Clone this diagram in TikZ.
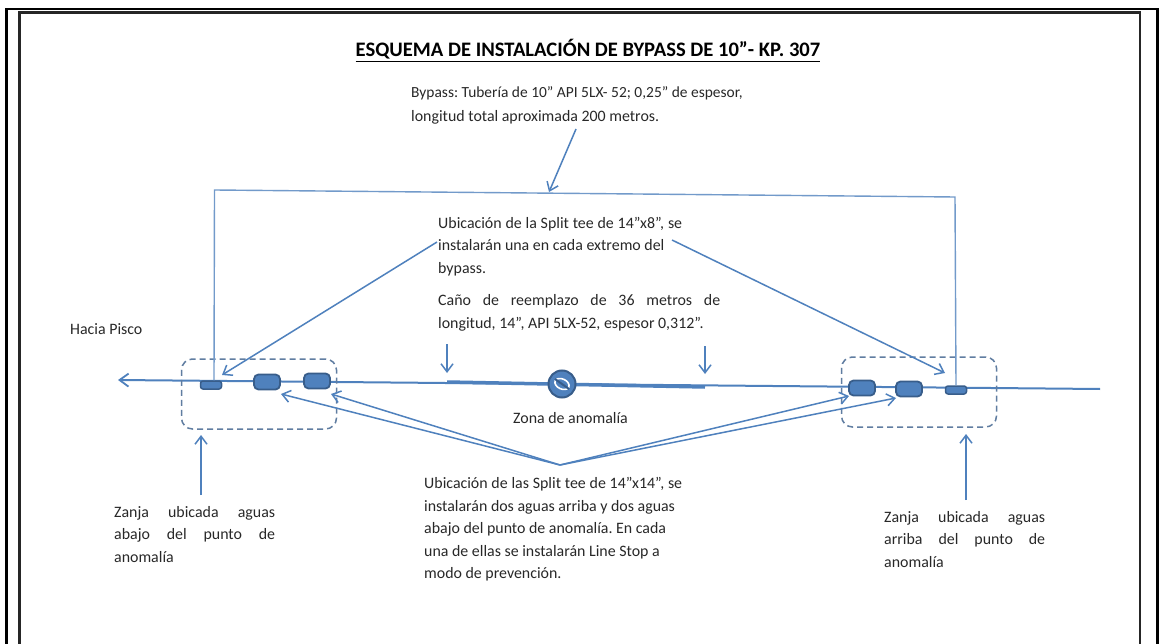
\documentclass[tikz,border=0pt]{standalone}
\usepackage{fontspec}
\setmainfont{Carlito}
\usetikzlibrary{arrows.meta}
\definecolor{lineblue}{RGB}{79,129,189}
\definecolor{darkblue}{RGB}{56,93,138}
\definecolor{txt}{RGB}{40,40,40}
\newcommand{\jl}[2]{\makebox[#1pt][s]{#2}}
\frenchspacing
\tikzset{
 x=1pt,y=-1pt,
 conn/.style={draw=lineblue,line width=1.5pt,-{Straight Barb[length=8pt,width=12pt,line width=1.5pt]}},
 pipe/.style={draw=lineblue,line width=2pt},
 teebig/.style={draw=darkblue,fill=lineblue,line width=1.8pt,rounded corners=4.5pt,minimum width=26pt,minimum height=15pt,inner sep=0pt},
 teesmall/.style={draw=darkblue,fill=lineblue,line width=1.5pt,rounded corners=2.5pt,minimum width=21pt,minimum height=8pt,inner sep=0pt},
 zone/.style={draw=darkblue!80,line width=1.5pt,dash pattern=on 6pt off 4pt,rounded corners=11pt},
 lab/.style={anchor=north west,inner sep=0pt,font=\fontsize{15.9}{24}\selectfont,text=txt,align=left},
 labt/.style={lab,font=\fontsize{15.9}{22.4}\selectfont},
}
\begin{document}
\begin{tikzpicture}
\useasboundingbox (0,0) rectangle (1159,644);
\fill[white] (0,0) rectangle (1159,644);
% frames
\draw[black,line width=2.8pt] (6.5,660) -- (6.5,9) -- (1157.5,9) -- (1157.5,660);
\draw[black!85,line width=2.4pt] (19.5,660) -- (19.5,12.5) -- (1140,12.5) -- (1140,660);
% title
\node[inner sep=0pt,anchor=base,font=\bfseries\fontsize{20.6}{24}\selectfont,text=black] (title) at (588,57) {\underline{ESQUEMA DE INSTALACIÓN DE BYPASS DE 10”- KP. 307}};
% main pipe
\coordinate (pL) at (118,380);
\coordinate (pR) at (1100,389);
\draw[pipe,-{Straight Barb[length=9pt,width=13pt,line width=1.8pt]}] (pR) -- (pL);
% replacement pipe
\coordinate (rL) at (447,382);
\coordinate (rR) at (705,387);
\draw[draw=lineblue,line width=3.5pt] (rL) -- (rR);
% zones
\node[zone,minimum width=155pt,minimum height=70pt,inner sep=0pt] (zoneL) at (259,394) {};
\node[zone,minimum width=155pt,minimum height=70pt,inner sep=0pt] (zoneR) at (919,392) {};
% tees
\node[teesmall] (t1) at (211,385) {};
\node[teebig] (t2) at (267,382) {};
\node[teebig] (t3) at (317,381) {};
\node[teebig] (t4) at (862,388) {};
\node[teebig] (t5) at (909,389) {};
\node[teesmall] (t6) at (956,390) {};
% bypass
\draw[draw=lineblue!80,line width=1.4pt] (t1.north) ++(3,0) -- (214.5,190) -- (955,197) -- (t6.north);
\coordinate (bypassTarget) at (549,192);
% anomaly
\node[circle,draw=darkblue,fill=lineblue,line width=2pt,minimum size=27pt,inner sep=0pt] (anom) at (562,384) {};
\draw[white,line width=1.6pt,rotate around={-25:(562,384)}] (562,384) ellipse (7.5pt and 5pt);
\draw[darkblue,line width=2pt] (anom.center) ++(-7,-5) -- ++(14,10);
% labels
\node[lab] (bypassLbl) at (411,86) {{\fontsize{15.45}{24}\selectfont Bypass: Tubería de 10” API 5LX- 52; 0,25” de espesor,}\\longitud total aproximada 200 metros.};
\node[labt] (teeLbl) at (438,217) {\jl{244}{Ubicación de la Split tee de 14”x8”, se}\\instalarán una en cada extremo del\\bypass.};
\node[labt] (canoLbl) at (438,294.5) {\jl{282}{Caño de reemplazo de 36 metros de}\\longitud, 14”, API 5LX-52, espesor 0,312”.};
\node[lab] (hacia) at (70,323) {Hacia Pisco};
\node[lab] (zona) at (513,412) {Zona de anomalía};
\node[labt] (zL) at (114,506) {\jl{161}{Zanja ubicada aguas}\\\jl{161}{abajo del punto de}\\anomalía};
\node[labt] (zR) at (884,511) {\jl{161}{Zanja ubicada aguas}\\\jl{161}{arriba del punto de}\\anomalía};
\node[labt] (low) at (424,477.5) {\jl{258}{Ubicación de las Split tee de 14”x14”, se}\\instalarán dos aguas arriba y dos aguas\\abajo del punto de anomalía. En cada\\una de ellas se instalarán Line Stop a\\modo de prevención.};
% connectors
\coordinate (bStart) at (576,129);
\draw[conn] (bStart) -- (bypassTarget);
\coordinate (teeA) at (437,242); \coordinate (teeAend) at (222,375);
\coordinate (teeB) at (672,240); \coordinate (teeBend) at (945,373);
\draw[conn] (teeA) -- (teeAend);
\draw[conn] (teeB) -- (teeBend);
\coordinate (c1) at (447,344); \coordinate (c1e) at (447,373);
\coordinate (c2) at (705,346); \coordinate (c2e) at (705,374);
\draw[conn] (c1) -- (c1e);
\draw[conn] (c2) -- (c2e);
\coordinate (hub) at (560,465);
\coordinate (a1) at (281,394); \coordinate (a2) at (331,394);
\coordinate (a3) at (849,396); \coordinate (a4) at (896,398);
\draw[conn] (hub) -- (a1);
\draw[conn] (hub) -- (a2);
\draw[conn] (hub) -- (a3);
\draw[conn] (hub) -- (a4);
\coordinate (zla) at (201,495); \coordinate (zlb) at (201,435);
\coordinate (zra) at (966,500); \coordinate (zrb) at (966,434);
\draw[conn] (zla) -- (zlb);
\draw[conn] (zra) -- (zrb);
\end{tikzpicture}
\end{document}
